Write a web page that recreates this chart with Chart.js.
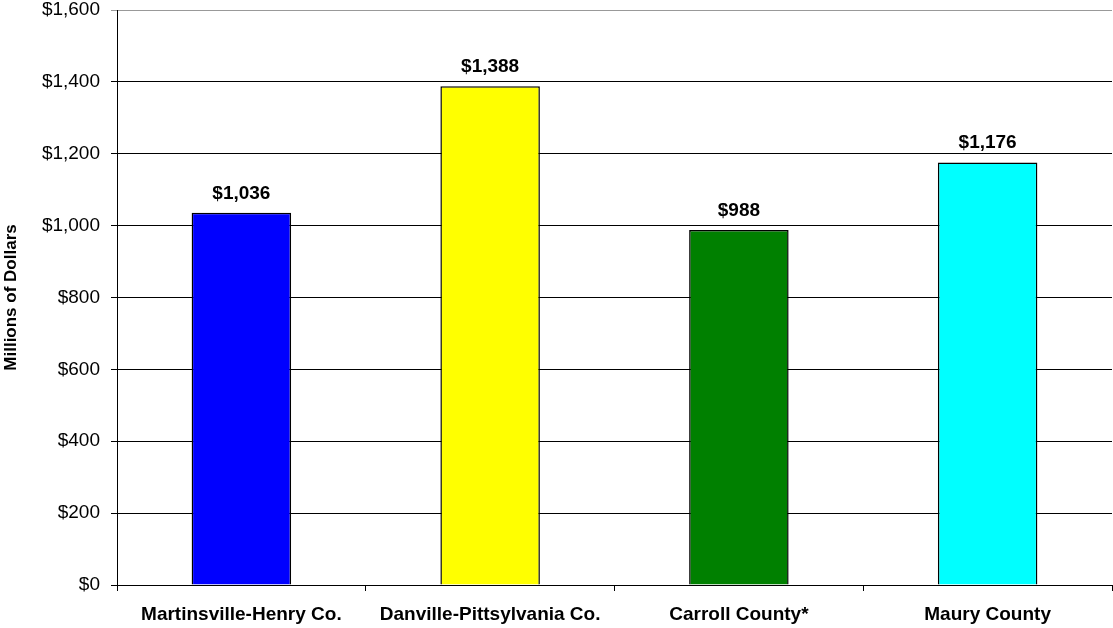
<!DOCTYPE html>
<html>
<head>
<meta charset="utf-8">
<script src="https://cdn.jsdelivr.net/npm/chart.js@4.4.0/dist/chart.umd.min.js"></script>
<style>
  html, body { margin: 0; padding: 0; background: #fff; }
  #wrap { width: 1113px; height: 628px; position: relative; }
</style>
</head>
<body>
<div id="wrap"><canvas id="chart"></canvas></div>
<script>
// datos del gráfico
const categories = ["Martinsville-Henry Co.", "Danville-Pittsylvania Co.", "Carroll County*", "Maury County"]
const values = [1036, 1388, 988, 1176]
const barColors = ["#0000ff", "#ffff00", "#008000", "#00ffff"]
const yTicks = [0, 200, 400, 600, 800, 1000, 1200, 1400, 1600]

const FONT = "'Liberation Sans', Arial, sans-serif"

function money(v) {
  return "$" + v.toLocaleString("en-US")
}

/**
 * Etiquetas encima de cada barra
 */
const valueLabels = {
  id: "valueLabels",
  afterDatasetsDraw(chart) {
    const ctx = chart.ctx
    const meta = chart.getDatasetMeta(0)
    ctx.save()
    ctx.font = "bold 19px " + FONT
    ctx.fillStyle = "#000"
    ctx.textAlign = "center"
    ctx.textBaseline = "alphabetic"
    meta.data.forEach((bar, i) => {
      ctx.fillText(money(values[i]), bar.x, bar.y - 14)
    })
    ctx.restore()
  },
}

new Chart(document.getElementById("chart"), {
  type: "bar",
  data: {
    labels: categories,
    datasets: [
      {
        data: values,
        backgroundColor: barColors,
        borderColor: "#000",
        borderWidth: 1.5,
        categoryPercentage: 0.4,
        barPercentage: 1,
      },
    ],
  },
  options: {
    responsive: true,
    maintainAspectRatio: false,
    animation: false,
    layout: { padding: { top: 10, right: 1, left: 0, bottom: 0 } },
    plugins: {
      legend: { display: false },
      tooltip: { enabled: false },
    },
    scales: {
      x: {
        offset: true,
        grid: {
          offset: true,
          drawOnChartArea: false,
          color: "#000",
          tickLength: 6,
        },
        border: { color: "#000" },
        ticks: {
          color: "#000",
          padding: 12,
          maxRotation: 0,
          autoSkip: false,
          font: { family: FONT, size: 19, weight: "bold" },
        },
        afterFit(scale) {
          scale.height = 43
          scale.paddingLeft = 0
          scale.paddingRight = 0
        },
      },
      y: {
        min: 0,
        max: 1600,
        afterBuildTicks(scale) {
          scale.ticks = yTicks.map((v) => ({ value: v }))
        },
        grid: {
          color: (c) => (c.tick && c.tick.value === 1600 ? "#999" : "#000"),
          tickLength: 6,
        },
        border: { color: "#000" },
        ticks: {
          color: "#000",
          padding: 11,
          font: { family: FONT, size: 19 },
          callback: (v) => money(v),
        },
        title: {
          display: true,
          text: "Millions of Dollars",
          color: "#000",
          padding: { top: 1, bottom: 8 },
          font: { family: FONT, size: 17, weight: "bold" },
        },
        afterFit(scale) {
          scale.width = 117
          scale.paddingTop = 0
          scale.paddingBottom = 0
        },
      },
    },
  },
  plugins: [valueLabels],
})
</script>
</body>
</html>
